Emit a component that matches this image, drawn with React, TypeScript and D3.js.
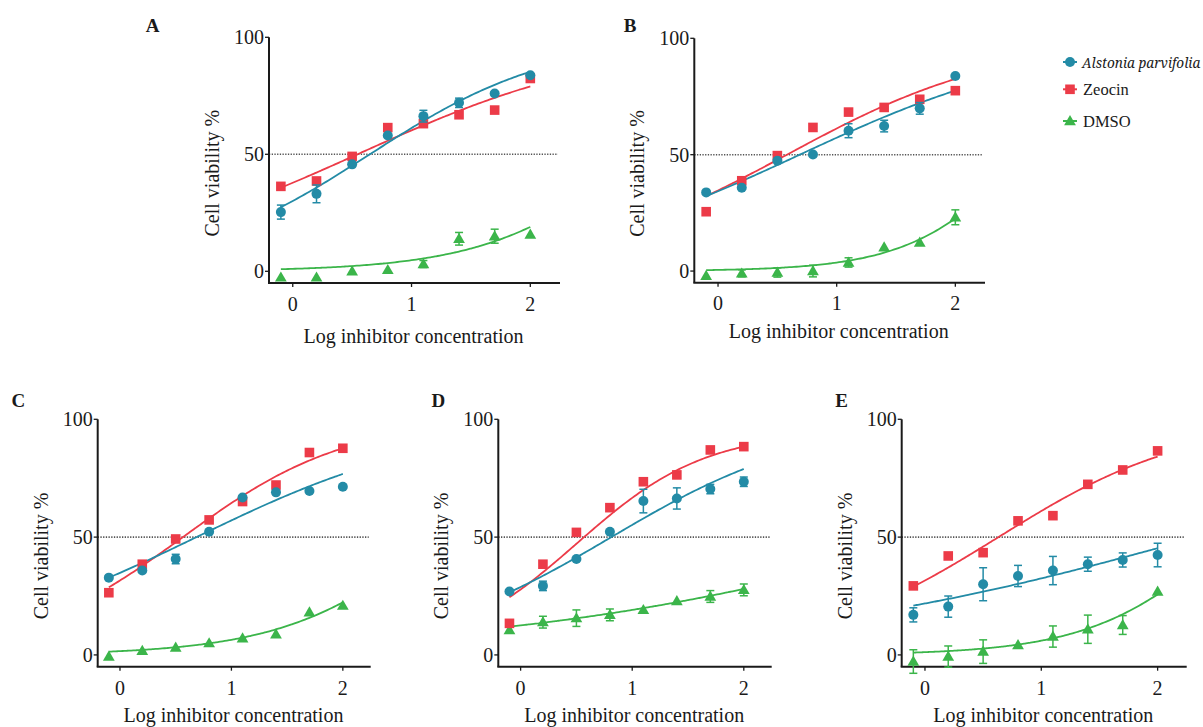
import React from 'react';
import * as d3 from 'd3';

// x positions (log inhibitor concentration) shared by every panel
const logConc = [-0.1, 0.2, 0.5, 0.8, 1.1, 1.4, 1.7, 2.0];
const panelIds = ['A', 'B', 'C', 'D', 'E'];
const yTicks = [0, 50, 100];
const xTicks = [0, 1, 2];
const halfLine = 50;

// mean cell viability % per panel
const alstoniaMean: Record<string, number[]> = {
  A: [25.3, 33.1, 45.7, 58, 66.3, 72, 76, 83.8],
  B: [33.8, 35.8, 47.4, 50.1, 60.3, 62.3, 69.9, 83.8],
  C: [32.8, 35.8, 40.7, 52.3, 66.8, 69, 69.6, 71.4],
  D: [26.9, 29.3, 40.7, 52.3, 65.3, 66.4, 70.4, 73.5],
  E: [17, 20.5, 30, 33.5, 35.8, 38.5, 40.3, 42.4],
};
const zeocinMean: Record<string, number[]> = {
  A: [36.3, 38.6, 49.1, 61.4, 63.1, 66.9, 68.9, 82.4],
  B: [25.5, 38.8, 49.6, 61.7, 68.3, 70.3, 73.8, 77.5],
  C: [26.4, 38.5, 49.2, 57.3, 65.1, 72.1, 85.9, 87.7],
  D: [13.4, 38.5, 52, 62.5, 73.5, 76.4, 87, 88.4],
  E: [29.3, 42, 43.4, 56.9, 59.1, 72.4, 78.5, 86.6],
};
const dmsoMean: Record<string, number[]> = {
  A: [-2.6, -2.6, 0, 0.6, 3.1, 13.9, 15, 15.7],
  B: [-2, -1, -0.6, 0, 3.7, 10.2, 12.3, 23.1],
  C: [-0.7, 1.8, 3.1, 5, 7.1, 8.8, 18.1, 20.9],
  D: [10.6, 13.9, 15.6, 17, 19.1, 22.9, 24.8, 27.6],
  E: [-2.8, -0.7, 1.4, 4.2, 7.8, 10.9, 12.7, 26.9],
};

// SEM (0 = bar hidden behind the symbol)
const alstoniaSem: Record<string, number[]> = {
  A: [3, 3.8, 0, 0, 2.5, 2, 0, 0],
  B: [0, 0, 0, 0, 3, 2.5, 2.5, 0],
  C: [0, 0, 2, 0, 0, 0, 0, 0],
  D: [0, 2, 0, 0, 5, 4.5, 2, 2],
  E: [3, 4.5, 7, 4.5, 6, 3, 3, 5],
};
const zeocinSem: Record<string, number[]> = {
  A: [0, 0, 1.5, 0, 0, 0, 0, 0],
  B: [0, 0, 0, 0, 0, 0, 0, 0],
  C: [0, 0, 0, 0, 0, 0, 0, 0],
  D: [0, 0, 0, 0, 0, 0, 0, 0],
  E: [0, 0, 0, 0, 0, 1.5, 0, 0],
};
const dmsoSem: Record<string, number[]> = {
  A: [0, 0, 0, 0, 1.5, 2.7, 3, 0],
  B: [0, 1.5, 2, 2.5, 2, 0, 0, 3.2],
  C: [0, 0, 0, 0, 0, 0, 0, 0],
  D: [0, 2.5, 3.5, 2.5, 0, 0, 2.5, 2.5],
  E: [5, 4.5, 5, 0, 4.5, 6, 4, 0],
};

// fitted dose-response curves: logEC50, hill slope, top plateau
type Fit = { ec50: number; hill: number; top: number };
const alstoniaFit: Record<string, Fit> = {
  A: { ec50: 0.649, hill: 0.565, top: 100 },
  B: { ec50: 0.689, hill: 0.41, top: 100 },
  C: { ec50: 0.687, hill: 0.396, top: 100 },
  D: { ec50: 0.813, hill: 0.483, top: 100 },
  E: { ec50: 2.347, hill: 0.236, top: 100 },
};
const zeocinFit: Record<string, Fit> = {
  A: { ec50: 0.545, hill: 0.396, top: 100 },
  B: { ec50: 0.581, hill: 0.475, top: 100 },
  C: { ec50: 0.565, hill: 0.594, top: 100 },
  D: { ec50: 0.508, hill: 0.755, top: 95 },
  E: { ec50: 0.632, hill: 0.531, top: 100 },
};
const dmsoFit: Record<string, Fit> = {
  A: { ec50: 2.939, hill: 0.672, top: 100 },
  B: { ec50: 2.604, hill: 0.886, top: 100 },
  C: { ec50: 2.871, hill: 0.622, top: 100 },
  D: { ec50: 3.89, hill: 0.217, top: 100 },
  E: { ec50: 2.631, hill: 0.731, top: 100 },
};

const TEAL = '#238ba6';
const RED = '#ec3b48';
const GREEN = '#3bb54a';
const INK = '#1a1a1a';
const FONT = '"Liberation Serif", "Times New Roman", serif';
// Liberation Serif has no italic face installed here, Noto Serif does
const ITALIC_FONT = '"Noto Serif", "DejaVu Serif", serif';

const series = [
  { name: 'Alstonia parvifolia', color: TEAL, shape: 'circle', italic: true, mean: alstoniaMean, sem: alstoniaSem, fit: alstoniaFit },
  { name: 'Zeocin', color: RED, shape: 'square', italic: false, mean: zeocinMean, sem: zeocinSem, fit: zeocinFit },
  { name: 'DMSO', color: GREEN, shape: 'triangle', italic: false, mean: dmsoMean, sem: dmsoSem, fit: dmsoFit },
];
const drawOrder = [2, 1, 0];

const layout: Record<string, any> = {
  A: { left: 269, right: 560, top: 37.3, bottom: 283, lx: 152.7, ly: 25, tickDy: 28, titleDy: 60 },
  B: { left: 694.3, right: 985, top: 38.3, bottom: 282.7, lx: 630, ly: 25, tickDy: 27, titleDy: 55 },
  C: { left: 97.7, right: 370.7, top: 419.3, bottom: 666.7, lx: 18.3, ly: 400, tickDy: 28, titleDy: 55 },
  D: { left: 498.3, right: 771.7, top: 419.3, bottom: 666.7, lx: 438.3, ly: 400, tickDy: 28, titleDy: 55 },
  E: { left: 901.7, right: 1186.7, top: 419.3, bottom: 666.7, lx: 841.7, ly: 400, tickDy: 28, titleDy: 55 },
};

const logistic = (f: Fit) => (x: number) => f.top / (1 + Math.pow(10, (f.ec50 - x) * f.hill));

const triPath = d3.symbol(d3.symbolTriangle, 60)() as string;
const txt = { fontFamily: FONT, fill: INK } as React.CSSProperties;

function Marker({ shape, x, y, color }: { shape: string; x: number; y: number; color: string }) {
  if (shape === 'circle') return <circle cx={x} cy={y} r={5} fill={color} />;
  if (shape === 'square') return <rect x={x - 4.8} y={y - 4.8} width={9.6} height={9.6} fill={color} />;
  return <path d={triPath} transform={`translate(${x},${y + 0.8})`} fill={color} />;
}

function Panel({ id }: { id: string }) {
  const L = layout[id];
  const x = d3.scaleLinear().domain([-0.2, 2.25]).range([L.left, L.right]);
  const y = d3.scaleLinear().domain([-5, 100]).range([L.bottom, L.top]);
  const curveXs = d3.range(-0.1, 2.0001, 0.02);
  const line = d3.line<number>().curve(d3.curveMonotoneX);

  return (
    <g>
      <text x={L.lx} y={L.ly} textAnchor="middle" dominantBaseline="central" fontSize={19} fontWeight="bold" style={txt}>
        {id}
      </text>

      {/* 50% reference */}
      <line x1={L.left} x2={L.right - 2} y1={y(halfLine)} y2={y(halfLine)} stroke="#555" strokeWidth={1.6} strokeDasharray="1.3,1.4" />

      {/* axes */}
      <line x1={L.left} x2={L.left} y1={y(100)} y2={L.bottom} stroke={INK} strokeWidth={2} />
      <line x1={L.left - 1} x2={L.right} y1={L.bottom} y2={L.bottom} stroke={INK} strokeWidth={2} />
      {yTicks.map(t => (
        <g key={'y' + t}>
          <line x1={L.left - 4} x2={L.left} y1={y(t)} y2={y(t)} stroke={INK} strokeWidth={1.3} />
          <text x={L.left - 5} y={y(t)} textAnchor="end" dominantBaseline="central" fontSize={20} style={txt}>{t}</text>
        </g>
      ))}
      {xTicks.map(t => (
        <g key={'x' + t}>
          <line x1={x(t)} x2={x(t)} y1={L.bottom} y2={L.bottom + 4} stroke={INK} strokeWidth={1.3} />
          <text x={x(t)} y={L.bottom + L.tickDy} textAnchor="middle" fontSize={20} style={txt}>{t}</text>
        </g>
      ))}
      <text x={x(1) + 2} y={L.bottom + L.titleDy} textAnchor="middle" fontSize={20} style={txt}>
        Log inhibitor concentration
      </text>
      <text
        transform={`translate(${L.left - 57},${(L.top + L.bottom) / 2 + 13}) rotate(-90)`}
        textAnchor="middle"
        dominantBaseline="central"
        fontSize={20}
        style={txt}
      >
        Cell viability %
      </text>

      {/* fitted curves */}
      {drawOrder.map(i => {
        const s = series[i];
        const f = logistic(s.fit[id]);
        const pts = curveXs.map(v => [x(v), y(f(v))] as [number, number]);
        return <path key={'c' + i} d={line(pts) as string} fill="none" stroke={s.color} strokeWidth={1.8} />;
      })}

      {/* error bars and symbols */}
      {drawOrder.map(i => {
        const s = series[i];
        return (
          <g key={'s' + i}>
            {s.mean[id].map((m, k) => {
              const e = s.sem[id][k];
              const cx = x(logConc[k]);
              return (
                <g key={k}>
                  {e > 0 && (
                    <g stroke={s.color} strokeWidth={1.5}>
                      <line x1={cx} x2={cx} y1={y(m - e)} y2={y(m + e)} />
                      <line x1={cx - 4} x2={cx + 4} y1={y(m - e)} y2={y(m - e)} />
                      <line x1={cx - 4} x2={cx + 4} y1={y(m + e)} y2={y(m + e)} />
                    </g>
                  )}
                  <Marker shape={s.shape} x={cx} y={y(m)} color={s.color} />
                </g>
              );
            })}
          </g>
        );
      })}
    </g>
  );
}

function Legend() {
  const ys = [62, 89.3, 121];
  return (
    <g>
      {series.map((s, i) => (
        <g key={s.name}>
          <line x1={1063} x2={1077} y1={ys[i]} y2={ys[i]} stroke={s.color} strokeWidth={2} />
          <Marker shape={s.shape} x={1070} y={ys[i]} color={s.color} />
          {s.italic ? (
            <text
              x={1082}
              y={ys[i]}
              dominantBaseline="central"
              fontSize={13.6}
              fontStyle="italic"
              style={{ fontFamily: ITALIC_FONT, fill: INK }}
            >
              {s.name}
            </text>
          ) : (
            <text x={1083} y={ys[i]} dominantBaseline="central" fontSize={16.5} style={txt}>
              {s.name}
            </text>
          )}
        </g>
      ))}
    </g>
  );
}

export default function App() {
  return (
    <svg
      width={1203}
      height={727}
      style={{ position: 'absolute', left: 0, top: 0, background: '#fff', fontFamily: FONT }}
    >
      <rect width={1203} height={727} fill="#fff" />
      {panelIds.map(id => <Panel key={id} id={id} />)}
      <Legend />
    </svg>
  );
}
